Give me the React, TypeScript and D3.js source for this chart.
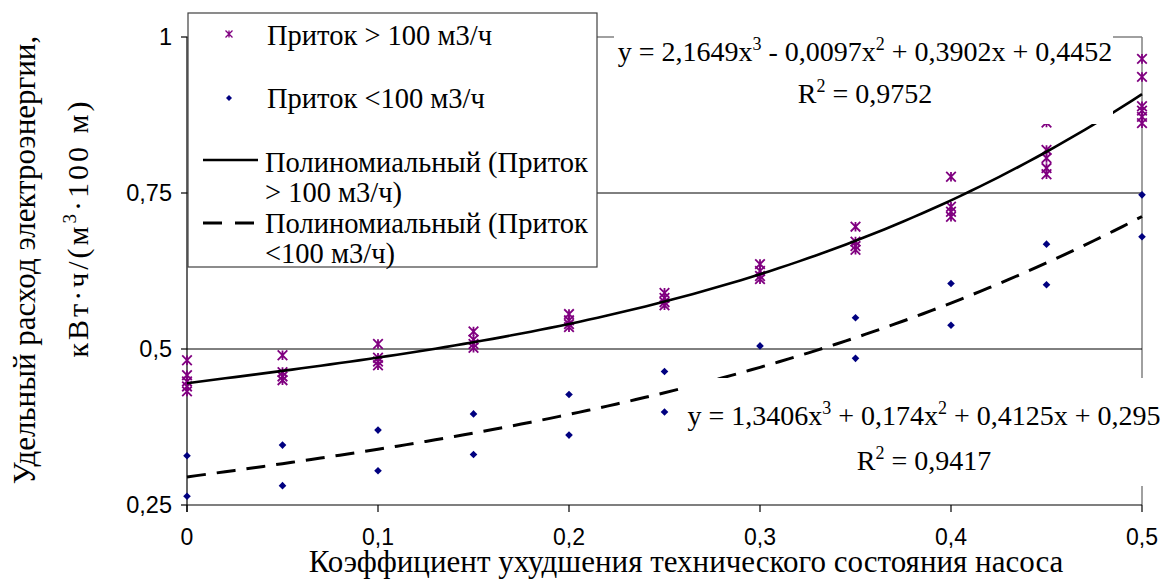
import React from 'react';
import * as d3 from 'd3';

const xValues = [0, 0.05, 0.1, 0.15, 0.2, 0.25, 0.3, 0.35, 0.4, 0.45, 0.5];
// Приток > 100 м3/ч (several measurements per x)
const highFlow: number[][] = [
  [0.482, 0.458, 0.448, 0.44, 0.432],
  [0.49, 0.463, 0.456, 0.45],
  [0.508, 0.486, 0.48, 0.474],
  [0.528, 0.515, 0.508, 0.502],
  [0.556, 0.546, 0.54, 0.535],
  [0.59, 0.582, 0.575, 0.57],
  [0.636, 0.625, 0.617, 0.612],
  [0.696, 0.672, 0.665, 0.659],
  [0.776, 0.728, 0.72, 0.712],
  [0.863, 0.819, 0.806, 0.79, 0.78],
  [0.965, 0.936, 0.889, 0.882, 0.872, 0.862],
];
// Приток <100 м3/ч
const lowFlow: number[][] = [
  [0.329, 0.264],
  [0.346, 0.281],
  [0.37, 0.305],
  [0.396, 0.331],
  [0.427, 0.362],
  [0.464, 0.399],
  [0.505, 0.44],
  [0.55, 0.485],
  [0.605, 0.538],
  [0.668, 0.603],
  [0.747, 0.68],
];
// trendline coefficients c0 + c1 x + c2 x^2 + c3 x^3
const highFit = [0.4452, 0.3902, -0.0097, 2.1649];
const lowFit = [0.295, 0.4125, 0.174, 1.3406];
const xTicks = [0, 0.1, 0.2, 0.3, 0.4, 0.5];
const yTicks = [0.25, 0.5, 0.75, 1];
const gridValues = [0.5, 0.75];

const serif = '"Liberation Serif", "Times New Roman", serif';
const sans = '"Liberation Sans", Arial, sans-serif';
const PURPLE = '#800080';
const NAVY = '#000080';

const fmt = (v: number) => String(v).replace('.', ',');
const poly = (c: number[], x: number) => c[0] + c[1] * x + c[2] * x * x + c[3] * x * x * x;

const star = (s: number) => `M${-s},${-s}L${s},${s}M${-s},${s}L${s},${-s}M0,${-s}L0,${s}`;
const diamond = (s: number) => `M0,${-s}L${s},0L0,${s}L${-s},0Z`;

export default function App() {
  const x = d3.scaleLinear().domain([0, 0.5]).range([187, 1142]);
  const y = d3.scaleLinear().domain([0.25, 1]).range([505, 37]);
  const [x0, x1] = x.range();
  const [yb, yt] = y.range();

  const samples = d3.range(0, 0.5 + 1e-9, 0.005);
  const line = d3
    .line<number>()
    .x((d) => x(d))
    .curve(d3.curveLinear);
  const highPath = line.y((d) => y(poly(highFit, d)))(samples) || '';
  const lowPath = line.y((d) => y(poly(lowFit, d)))(samples) || '';

  const legFs = 28.5;
  const eqFs = 28;

  return (
    <svg
      width={1161}
      height={579}
      style={{ position: 'absolute', left: 0, top: 0, background: '#fff' }}
    >
      <rect x={0} y={0} width={1161} height={579} fill="#fff" />
      {/* plot border (top & right, gray) */}
      <line x1={x0} x2={x1} y1={yt} y2={yt} stroke="#808080" strokeWidth={1.5} />
      <line x1={x1} x2={x1} y1={yt} y2={yb} stroke="#808080" strokeWidth={1.5} />
      {/* gridlines */}
      {gridValues.map((g) => (
        <line key={g} x1={x0} x2={x1} y1={y(g)} y2={y(g)} stroke="#000" strokeWidth={1} />
      ))}
      {/* axes */}
      <line x1={x0} x2={x0} y1={yt} y2={yb + 7} stroke="#000" strokeWidth={1.2} />
      <line x1={x0} x2={x1} y1={yb} y2={yb} stroke="#000" strokeWidth={1.2} />
      {yTicks.map((t) => (
        <g key={t}>
          <line x1={x0 - 6} x2={x0} y1={y(t)} y2={y(t)} stroke="#000" strokeWidth={1.2} />
          <text
            x={172}
            y={y(t) + 8}
            textAnchor="end"
            fontFamily={sans}
            fontSize={23.5}
            fill="#000"
          >
            {fmt(t)}
          </text>
        </g>
      ))}
      {xTicks.map((t) => (
        <g key={t}>
          <line x1={x(t)} x2={x(t)} y1={yb} y2={yb + 7} stroke="#000" strokeWidth={1.2} />
          <text
            x={x(t)}
            y={545}
            textAnchor="middle"
            fontFamily={sans}
            fontSize={23}
            fill="#000"
          >
            {fmt(t)}
          </text>
        </g>
      ))}

      {/* points */}
      {xValues.map((xv, i) =>
        highFlow[i].map((v, j) => (
          <path
            key={`h${i}-${j}`}
            d={star(4.8)}
            transform={`translate(${x(xv)},${y(v)})`}
            stroke={PURPLE}
            strokeWidth={1.8}
            fill="none"
          />
        ))
      )}
      {xValues.map((xv, i) =>
        lowFlow[i].map((v, j) => (
          <path
            key={`l${i}-${j}`}
            d={diamond(3.8)}
            transform={`translate(${x(xv)},${y(v)})`}
            fill={NAVY}
          />
        ))
      )}

      {/* trendlines */}
      <path d={highPath} fill="none" stroke="#000" strokeWidth={2.6} />
      <path
        d={lowPath}
        fill="none"
        stroke="#000"
        strokeWidth={3}
        strokeDasharray="19,11"
      />

      {/* equation labels */}
      <rect x={614} y={28} width={499} height={96} fill="#fff" />
      <text x={865} y={61} textAnchor="middle" fontFamily={serif} fontSize={eqFs} fill="#000">
        y = 2,1649x<tspan dy={-11} fontSize={18}>3</tspan>
        <tspan dy={11}> - 0,0097x</tspan>
        <tspan dy={-11} fontSize={18}>2</tspan>
        <tspan dy={11}> + 0,3902x + 0,4452</tspan>
      </text>
      <text x={865} y={103} textAnchor="middle" fontFamily={serif} fontSize={eqFs} fill="#000">
        R<tspan dy={-11} fontSize={18}>2</tspan>
        <tspan dy={11}> = 0,9752</tspan>
      </text>

      <rect x={680} y={378} width={481} height={108} fill="#fff" />
      <text x={924} y={425} textAnchor="middle" fontFamily={serif} fontSize={eqFs} fill="#000">
        y = 1,3406x<tspan dy={-11} fontSize={18}>3</tspan>
        <tspan dy={11}> + 0,174x</tspan>
        <tspan dy={-11} fontSize={18}>2</tspan>
        <tspan dy={11}> + 0,4125x + 0,295</tspan>
      </text>
      <text x={924} y={470} textAnchor="middle" fontFamily={serif} fontSize={eqFs} fill="#000">
        R<tspan dy={-11} fontSize={18}>2</tspan>
        <tspan dy={11}> = 0,9417</tspan>
      </text>

      {/* legend */}
      <rect x={188} y={13} width={409} height={254} fill="#fff" stroke="#404040" strokeWidth={1.2} />
      <path d={star(3.5)} transform="translate(229,34)" stroke={PURPLE} strokeWidth={1.3} fill="none" />
      <text x={267} y={45} fontFamily={serif} fontSize={legFs} fill="#000">
        Приток &gt; 100 м3/ч
      </text>
      <path d={diamond(3)} transform="translate(229,98)" fill={NAVY} />
      <text x={267} y={108} fontFamily={serif} fontSize={legFs} fill="#000">
        Приток &lt;100 м3/ч
      </text>
      <line x1={203} x2={258} y1={160} y2={160} stroke="#000" strokeWidth={2.6} />
      <text fontFamily={serif} fontSize={legFs} fill="#000">
        <tspan x={265} y={172}>Полиномиальный (Приток</tspan>
        <tspan x={265} y={202}>&gt; 100 м3/ч)</tspan>
      </text>
      <line
        x1={203}
        x2={258}
        y1={223}
        y2={223}
        stroke="#000"
        strokeWidth={3}
        strokeDasharray="19,13"
      />
      <text fontFamily={serif} fontSize={legFs} fill="#000">
        <tspan x={265} y={233}>Полиномиальный (Приток</tspan>
        <tspan x={265} y={263}>&lt;100 м3/ч)</tspan>
      </text>

      {/* axis titles */}
      <text x={686} y={572} textAnchor="middle" fontFamily={serif} fontSize={31} fill="#000">
        Коэффициент ухудшения технического состояния насоса
      </text>
      <text
        transform="translate(35,260) rotate(-90)"
        textAnchor="middle"
        fontFamily={serif}
        fontSize={31}
        fill="#000"
      >
        Удельный расход электроэнергии,
      </text>
      <text
        transform="translate(88,228) rotate(-90)"
        textAnchor="middle"
        fontFamily={serif}
        fontSize={30}
        letterSpacing={3}
        fill="#000"
      >
        кВт·ч/(м<tspan dy={-12} fontSize={19}>3</tspan>
        <tspan dy={12}>·100 м)</tspan>
      </text>
    </svg>
  );
}
